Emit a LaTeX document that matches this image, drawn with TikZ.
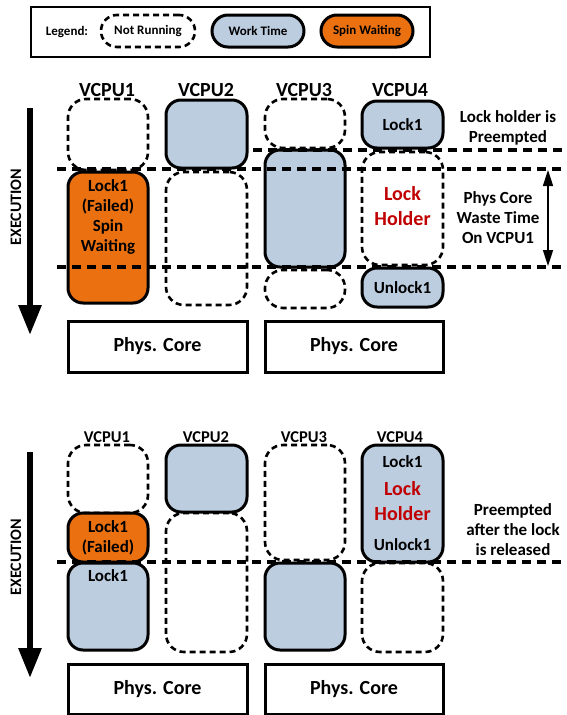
\documentclass[tikz,border=0pt]{standalone}
\usepackage{fontspec}
\setmainfont{Carlito}
\usetikzlibrary{arrows.meta}
\definecolor{workblue}{HTML}{BDCDE0}
\definecolor{spinorange}{HTML}{EA7010}
\definecolor{lockred}{HTML}{C00000}
\newcommand\cellbox[7]{%
  \pgfmathsetmacro\cbw{#5-#3}\pgfmathsetmacro\cbh{#6-#4}%
  \node[#2,minimum width=\cbw pt,minimum height=\cbh pt] (#1) at ({(#3+#5)/2},{(#4+#6)/2}) {#7};}
\tikzset{
  idle/.style={draw, dash pattern=on 6pt off 4pt, line width=2.6pt, rounded corners=18pt, inner sep=0pt, align=center},
  work/.style={draw, fill=workblue, line width=3pt, rounded corners=15pt, inner sep=0pt, align=center, font=\bfseries\fontsize{17}{20}\selectfont},
  spin/.style={work, fill=spinorange},
  core/.style={draw, line width=3pt, fill=white, inner sep=0pt, font=\bfseries\fontsize{20}{24}\selectfont},
  timeline/.style={line width=3.6pt, dash pattern=on 9pt off 6pt},
  txt/.style={font=\bfseries\fontsize{17}{20}\selectfont, align=center, inner sep=0pt},
  vlabel/.style={font=\bfseries\fontsize{20}{24}\selectfont, inner sep=0pt},
  vlabelsmall/.style={font=\bfseries\fontsize{16.5}{20}\selectfont, inner sep=0pt},
  redtxt/.style={align=center, inner sep=0pt, text=lockred, font=\bfseries\fontsize{20}{25}\selectfont},
  execarrow/.style={line width=6pt, -{Triangle[width=22pt,length=30pt]}},
  execlabel/.style={font=\bfseries\fontsize{16}{19}\selectfont, rotate=90, inner sep=0pt},
  legtxt/.style={font=\bfseries\fontsize{13}{15}\selectfont},
  dblarrow/.style={line width=1.6pt, {Triangle[width=10pt,length=16pt]}-{Triangle[width=10pt,length=16pt]}}
}
\begin{document}
\begin{tikzpicture}[x=1pt,y=-1pt]
\useasboundingbox[fill=white] (0,0) rectangle (567,715);
% legend
\cellbox{legend}{draw, line width=1.5pt}{31}{7}{430}{57}{}
\node[legtxt] (legtitle) at (67,32) {Legend:};
\cellbox{legidle}{idle, legtxt, rounded corners=16pt}{101}{15}{195}{47}{Not Running}
\cellbox{legwork}{work, legtxt, rounded corners=16pt}{212}{15}{304}{47}{Work Time}
\cellbox{legspin}{spin, legtxt, rounded corners=16pt}{321}{15}{413}{47}{Spin Waiting}
% ---------- top scenario ----------
\node[vlabel] (t1) at (107,90) {VCPU1};
\node[vlabel] (t2) at (206,90) {VCPU2};
\node[vlabel] (t3) at (304,90) {VCPU3};
\node[vlabel] (t4) at (400,90) {VCPU4};
\cellbox{v1a}{idle}{68}{99}{148}{170}{}
\cellbox{v2a}{work}{166}{100}{247}{168}{}
\cellbox{v3a}{idle}{265}{99}{345}{148}{}
\cellbox{v4a}{work}{362}{101}{443}{148}{Lock1}
\cellbox{v1b}{spin}{68}{172}{148}{303}{}
\node[txt] (v1btxt) at (108,217) {Lock1\\(Failed)\\Spin\\Waiting};
\cellbox{v2b}{idle}{166}{172}{247}{305}{}
\cellbox{v3b}{work}{265}{150}{345}{267}{}
\cellbox{v3c}{idle}{265}{270}{345}{308}{}
\cellbox{v4b}{idle}{362}{152}{443}{265}{}
\node[redtxt] (v4btxt) at (402.5,206) {Lock\\Holder};
\cellbox{v4c}{work}{362}{268}{443}{307}{Unlock1}
\cellbox{c1}{core}{68}{321}{247}{372}{Phys. Core}
\cellbox{c2}{core}{265}{321}{443}{372}{Phys. Core}
\coordinate (la1) at (253,150); \coordinate (lb1) at (567,150);
\coordinate (la2) at (57,169);  \coordinate (lb2) at (567,169);
\coordinate (la3) at (57,267);  \coordinate (lb3) at (567,267);
\draw[timeline] (la1) -- (lb1);
\draw[timeline] (la2) -- (lb2);
\draw[timeline] (la3) -- (lb3);
\coordinate (e1s) at (30,108); \coordinate (e1e) at (30,335);
\draw[execarrow] (e1s) -- (e1e);
\node[execlabel] (e1lab) at (16,207) {EXECUTION};
\node[txt] (note1) at (508,128) {Lock holder is\\Preempted};
\node[txt] (note2) at (498,218) {Phys Core\\Waste Time\\On VCPU1};
\coordinate (w1) at (548,170); \coordinate (w2) at (548,266);
\draw[dblarrow] (w1) -- (w2);
% ---------- bottom scenario ----------
\node[vlabelsmall] (b1) at (107,437) {VCPU1};
\node[vlabelsmall] (b2) at (206,437) {VCPU2};
\node[vlabelsmall] (b3) at (304,437) {VCPU3};
\node[vlabelsmall] (b4) at (400,437) {VCPU4};
\cellbox{w1a}{idle}{68}{445}{148}{513}{}
\cellbox{w1b}{spin}{68}{513}{148}{562}{Lock1\\(Failed)}
\cellbox{w1c}{work}{68}{563}{148}{650}{}
\node[txt] (w1ctxt) at (108,576) {Lock1};
\cellbox{w2a}{work}{166}{445}{247}{512}{}
\cellbox{w2b}{idle}{166}{513}{247}{652}{}
\cellbox{w3a}{idle}{265}{445}{345}{560}{}
\cellbox{w3b}{work}{265}{563}{345}{650}{}
\cellbox{w4a}{work}{362}{445}{443}{562}{}
\node[txt] (w4lock) at (402.5,462) {Lock1};
\node[redtxt] (w4holder) at (402.5,501) {Lock\\Holder};
\node[txt] (w4unlock) at (402.5,545) {Unlock1};
\cellbox{w4b}{idle}{362}{563}{443}{652}{}
\cellbox{d1}{core}{68}{664}{247}{714}{Phys. Core}
\cellbox{d2}{core}{265}{664}{443}{714}{Phys. Core}
\coordinate (la4) at (57,562); \coordinate (lb4) at (567,562);
\draw[timeline] (la4) -- (lb4);
\coordinate (e2s) at (30,452); \coordinate (e2e) at (30,678);
\draw[execarrow] (e2s) -- (e2e);
\node[execlabel] (e2lab) at (16,557) {EXECUTION};
\node[txt] (note3) at (513,530) {Preempted\\after the lock\\is released};
\end{tikzpicture}
\end{document}
